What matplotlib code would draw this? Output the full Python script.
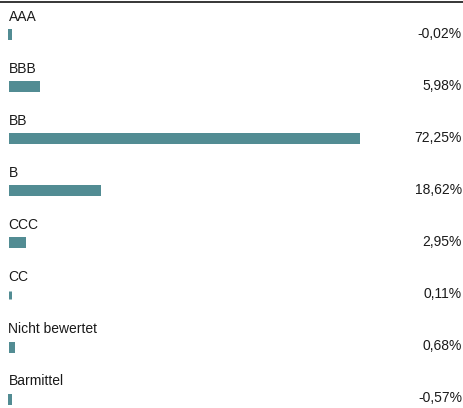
import matplotlib
matplotlib.use("Agg")
import matplotlib.pyplot as plt
from matplotlib.lines import Line2D
from matplotlib.transforms import blended_transform_factory

categories = ["AAA", "BBB", "BB", "B", "CCC", "CC", "Nicht bewertet", "Barmittel"]
values = [-0.02, 5.98, 72.25, 18.62, 2.95, 0.11, 0.68, -0.57]
value_labels = ["-0,02%", "5,98%", "72,25%", "18,62%", "2,95%", "0,11%", "0,68%", "-0,57%"]

plt.rcParams['font.family'] = ['Liberation Sans', 'DejaVu Sans']

W, H = 463, 408
dpi = 100
fig = plt.figure(figsize=(W / dpi, H / dpi), dpi=dpi)

px_per_unit = 4.83
row_px = 52.0
first_bar_px = 34.5
left_px = 8
zero_px = 9.5

ax = fig.add_axes([left_px / W, 0, 1 - left_px / W, 1])
ax.set_xlim(-(zero_px - left_px) / px_per_unit, (W - zero_px) / px_per_unit)
ax.set_ylim((H - first_bar_px) / row_px, -first_bar_px / row_px)
ax.axis("off")

color = "#528c93"
ys = list(range(len(categories)))
edge_px = 3
ax.barh(ys, values, height=8 / row_px, color=color, edgecolor=color,
        linewidth=edge_px * 72 / dpi)

tr = blended_transform_factory(fig.transFigure, ax.transData)
for y, cat, lab in zip(ys, categories, value_labels):
    ax.text(8.5 / W, y - 17.5 / row_px, cat, transform=tr, ha="left", va="center",
            fontsize=10, color="#1a1a1a")
    ax.text(462 / W, y, lab, transform=tr, ha="right", va="center",
            fontsize=10, color="#1a1a1a")

fig.add_artist(Line2D([0, 1], [1 - 2 / H, 1 - 2 / H], transform=fig.transFigure,
                      color="black", linewidth=1.1))

fig.savefig("out.png", dpi=dpi)
